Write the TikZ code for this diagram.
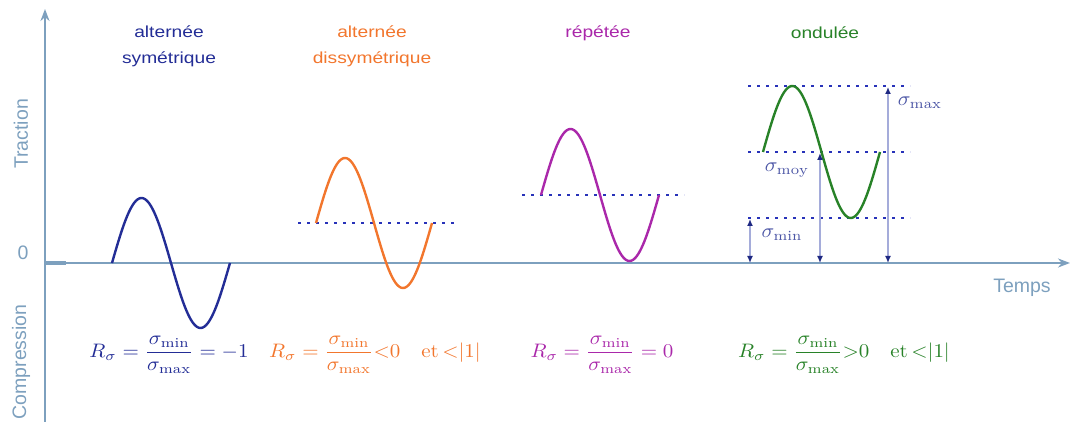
\documentclass[tikz,border=0pt]{standalone}
\usepackage{amsmath}
\usepackage{fontspec}
\usetikzlibrary{arrows.meta}
\newfontfamily\sansf{Liberation Sans}
\definecolor{axiscol}{RGB}{125,160,190}
\definecolor{cblue}{RGB}{35,45,150}
\definecolor{corange}{RGB}{242,118,45}
\definecolor{cpurple}{RGB}{170,40,170}
\definecolor{cgreen}{RGB}{40,130,40}
\definecolor{dotcol}{RGB}{40,50,185}
\definecolor{shaft}{RGB}{165,172,218}
\definecolor{sigcol}{RGB}{75,85,165}
\definecolor{headcol}{RGB}{30,40,130}
\tikzset{
  axisline/.style={draw=axiscol, line width=2pt},
  axislabel/.style={text=axiscol, font=\sansf\fontsize{19.5}{20}\selectfont},
  title/.style={font=\sansf\fontsize{16}{26}\selectfont, align=center, xscale=1.2, transform shape},
  wave/.style={line width=2.4pt},
  dotline/.style={draw=dotcol, line width=2pt, dash pattern=on 2.5pt off 6.5pt},
  measure/.style={draw=shaft, line width=1.4pt, {Latex[length=7pt,width=6pt,color=headcol]}-{Latex[length=7pt,width=6pt,color=headcol]}},
  siglabel/.style={text=sigcol, xscale=2.1, yscale=2, transform shape},
  formula/.style={xscale=2.1, yscale=1.95, transform shape},
}
\begin{document}
\begin{tikzpicture}[x=1pt,y=-1pt]
\useasboundingbox (0,0) rectangle (1072,427);
% axes
\coordinate (vb) at (45,422);
\coordinate (vt) at (45,9);
\coordinate (ho) at (45,263);
\coordinate (he) at (1070,263);
\draw[axisline, -{Stealth[length=12pt,width=9pt]}] (vb) -- (vt);
\draw[axisline, -{Stealth[length=12pt,width=9pt]}] (ho) -- (he);
\draw[draw=axiscol, line width=3.5pt] (ho) -- (66,263);
\node[axislabel, rotate=90] (trac) at (21,134) {Traction};
\node[axislabel, rotate=90] (comp) at (21,362) {Compression};
\node[axislabel] (zero) at (23,253) {0};
\node[axislabel] (temps) at (1022,288) {Temps};
% titles
\node[title, text=cblue] (t1) at (169,46) {alternée\\symétrique};
\node[title, text=corange] (t2) at (372,46) {alternée\\dissymétrique};
\node[title, text=cpurple] (t3) at (598,33) {répétée};
\node[title, text=cgreen] (t4) at (825,33) {ondulée};
% dotted lines
\draw[dotline] (298,223) -- (456,223);
\draw[dotline] (522,195) -- (684,195);
\draw[dotline] (748,86) -- (910,86);
\draw[dotline] (748,152) -- (910,152);
\draw[dotline] (748,218) -- (910,218);
% waves
\draw[wave, cblue] plot[domain=0:360, samples=80, smooth] ({112+\x/360*118}, {263-65*sin(\x)});
\draw[wave, corange] plot[domain=0:360, samples=80, smooth] ({316+\x/360*116}, {223-65*sin(\x)});
\draw[wave, cpurple] plot[domain=0:360, samples=80, smooth] ({541+\x/360*118}, {195-66*sin(\x)});
\draw[wave, cgreen] plot[domain=0:360, samples=80, smooth] ({763+\x/360*117}, {152-66*sin(\x)});
% measures
\coordinate (mn0) at (750,263); \coordinate (mn1) at (750,219);
\coordinate (my0) at (820,263); \coordinate (my1) at (820,153);
\coordinate (mx0) at (888,263); \coordinate (mx1) at (888,87);
\draw[measure] (mn0) -- (mn1);
\draw[measure] (my0) -- (my1);
\draw[measure] (mx0) -- (mx1);
\node[siglabel] (smax) at (920,103) {$\sigma_{\max}$};
\node[siglabel] (smoy) at (787,170) {$\sigma_{\mathrm{moy}}$};
\node[siglabel] (smin) at (782,235) {$\sigma_{\min}$};
% formulas
\node[formula, text=cblue] (f1) at (169,355) {$R_\sigma=\dfrac{\sigma_{\min}}{\sigma_{\max}}=-1$};
\node[formula, text=corange] (f2) at (375,355) {$R_\sigma=\dfrac{\sigma_{\min}}{\sigma_{\max}}{<}0\hspace{1em}\mathrm{et}\,{<}|1|$};
\node[formula, text=cpurple] (f3) at (602,355) {$R_\sigma=\dfrac{\sigma_{\min}}{\sigma_{\max}}=0$};
\node[formula, text=cgreen] (f4) at (844,355) {$R_\sigma=\dfrac{\sigma_{\min}}{\sigma_{\max}}{>}0\hspace{1em}\mathrm{et}\,{<}|1|$};
\end{tikzpicture}
\end{document}
